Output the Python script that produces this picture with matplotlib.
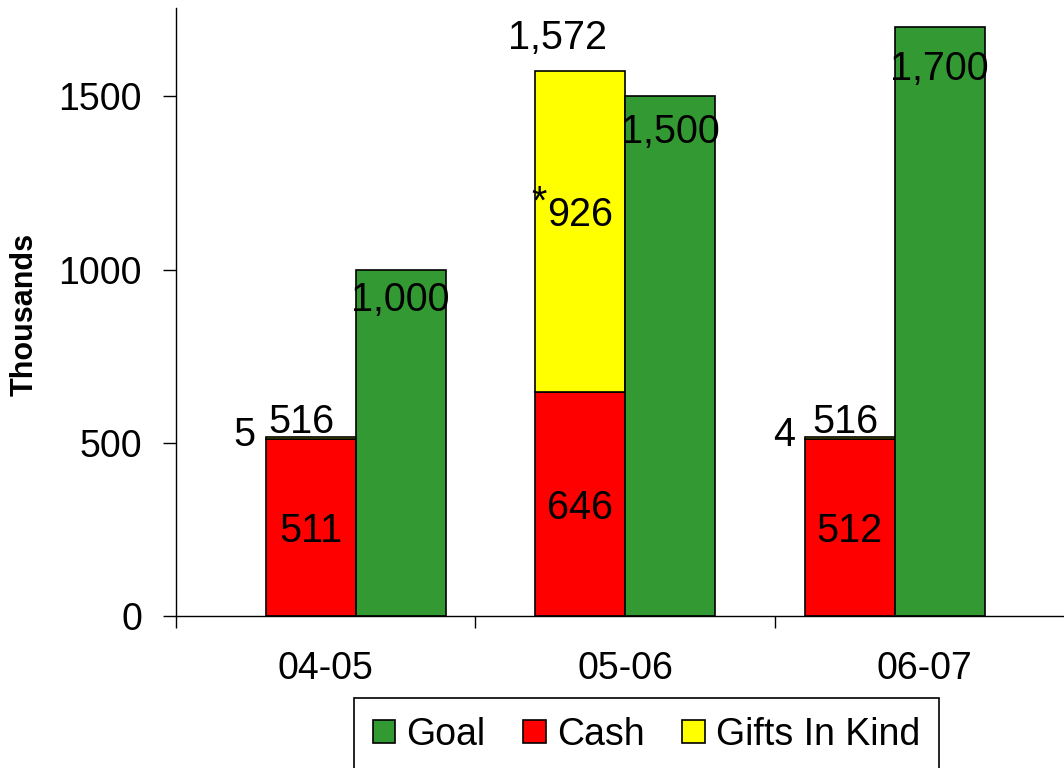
import matplotlib
matplotlib.use('Agg')
import matplotlib.pyplot as plt
import numpy as np

#----------Datos----------#
years = ['04-05', '05-06', '06-07']
goal = [1000, 1500, 1700]
cash = [511, 646, 512]
gifts = [5, 926, 4]
gift_notes = ['', '*', '']

#----------Disposicion----------#
# desplazamiento de cada par de barras dentro de su categoria
shift = [0.1, 0.0, -0.1]
w = 0.3
# desplazamientos de etiquetas en pixeles
total_dx = [-9, -23, -4]
total_dy = [19, 37, 19]
goal_dy = [-26, -31.5, -37.5]

plt.rcParams['font.family'] = ['Liberation Sans', 'DejaVu Sans']

x = np.arange(len(years))
x_cash = x + np.array(shift) - w / 2
x_goal = x + np.array(shift) + w / 2
cash_a = np.array(cash)
gifts_a = np.array(gifts)
total = cash_a + gifts_a

fig = plt.figure(figsize=(10.64, 7.68), dpi=100)
ax = fig.add_axes([176 / 1064, 152 / 768, 898.5 / 1064, 608 / 768])

b_cash = ax.bar(x_cash, cash, w, color='#ff0000', edgecolor='black', linewidth=1.2, label='Cash')
b_gift = ax.bar(x_cash, gifts, w, bottom=cash, color='#ffff00', edgecolor='black', linewidth=1.2,
                label='Gifts In Kind')
b_goal = ax.bar(x_goal, goal, w, color='#339933', edgecolor='black', linewidth=1.2, label='Goal')

lbl = dict(textcoords='offset pixels', ha='center', va='center_baseline', fontsize=28.5)

for i in range(len(years)):
    # efectivo, centrado en su segmento
    ax.annotate(f'{cash[i]:,}', xy=(x_cash[i], cash[i] / 2), xytext=(0, 0), **lbl)

    # donaciones en especie
    mid = cash[i] + gifts[i] / 2
    if gifts[i] < 50:
        ax.annotate(f'{gifts[i]:,}', xy=(x_cash[i] - w / 2, mid), xytext=(-10, 7),
                    textcoords='offset pixels', ha='right', va='center_baseline', fontsize=28.5)
    else:
        ax.annotate(f'{gifts[i]:,}', xy=(x_cash[i], mid), xytext=(0, 21), **lbl)
    if gift_notes[i]:
        ax.annotate(gift_notes[i], xy=(x_cash[i], mid), xytext=(-41, 18),
                    textcoords='offset pixels', ha='center', va='baseline', fontsize=28.5)

    # total
    ax.annotate(f'{total[i]:,}', xy=(x_cash[i], total[i]), xytext=(total_dx[i], total_dy[i]), **lbl)

    # meta
    ax.annotate(f'{goal[i]:,}', xy=(x_goal[i], goal[i]), xytext=(0, goal_dy[i]), **lbl)

ax.set_xlim(-0.5, 2.5)
ax.set_ylim(0, 1755)

for s in ['top', 'right']:
    ax.spines[s].set_visible(False)
for s in ['left', 'bottom']:
    ax.spines[s].set_linewidth(1.0)
    ax.spines[s].set_color('black')

ax.set_yticks([0, 500, 1000, 1500])
ax.tick_params(axis='y', direction='out', length=9.4, width=1, pad=15, labelsize=27)

ax.set_xticks(x)
ax.set_xticklabels(years)
ax.set_xticks([-0.5, 0.5, 1.5, 2.5], minor=True)
ax.tick_params(axis='x', which='major', length=0, pad=25, labelsize=27)
ax.tick_params(axis='x', which='minor', direction='out', length=8.6, width=1)

fig.text(25 / 1064, 1 - 314 / 768, 'Thousands', rotation=90, fontsize=22, fontweight='bold',
         ha='center', va='center')

leg = ax.legend([b_goal, b_cash, b_gift], ['Goal', 'Cash', 'Gifts In Kind'],
                loc='upper left', bbox_to_anchor=(354 / 1064, 1 - 698 / 768),
                bbox_transform=fig.transFigure, ncol=3, fontsize=27, frameon=True,
                fancybox=False, framealpha=1, edgecolor='black', borderpad=0.5,
                handlelength=0.6, handleheight=0.6, handletextpad=0.3, columnspacing=1.0,
                borderaxespad=0)
leg.get_frame().set_linewidth(1.2)

fig.savefig('out.png', dpi=100)
